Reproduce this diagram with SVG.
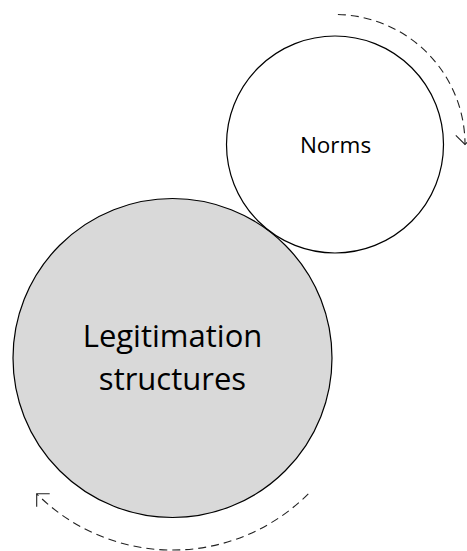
<svg xmlns="http://www.w3.org/2000/svg" width="467" height="551" viewBox="0 0 467 551">
  <style>
    .node { stroke: #000; stroke-width: 1.2; }
    .label { font-family: "Open Sans", "Liberation Sans", sans-serif; fill: #000; text-anchor: middle; }
    .flow { fill: none; stroke: #222; stroke-width: 1.1; stroke-dasharray: 8 5; }
  </style>
  <defs>
    <marker id="open" markerUnits="userSpaceOnUse" viewBox="-12 -12 24 24" markerWidth="24" markerHeight="24" refX="0" refY="0" orient="auto" overflow="visible">
      <path d="M-9.2,-9.2 L0,0 L-9.2,9.2" fill="none" stroke="#222" stroke-width="1.1"/>
    </marker>
  </defs>
  <rect width="467" height="551" fill="#fff"/>
  <g id="legitimation">
    <circle class="node" cx="172.5" cy="358" r="159.5" fill="#d9d9d9"/>
    <text class="label" x="172.5" y="346.5" font-size="31">Legitimation</text>
    <text class="label" x="172.5" y="389.5" font-size="31">structures</text>
  </g>
  <g id="norms">
    <circle class="node" cx="335" cy="144.5" r="108.5" fill="#fff"/>
    <text class="label" x="335.5" y="152.5" font-size="22.5">Norms</text>
  </g>
  <g id="connectors">
    <path class="flow" d="M337.9,14.5 A130,130 0 0 1 465,144.5" marker-end="url(#open)"/>
    <path class="flow" d="M308.3,493.8 A192,192 0 0 1 36.7,493.8" marker-end="url(#open)"/>
  </g>
</svg>
